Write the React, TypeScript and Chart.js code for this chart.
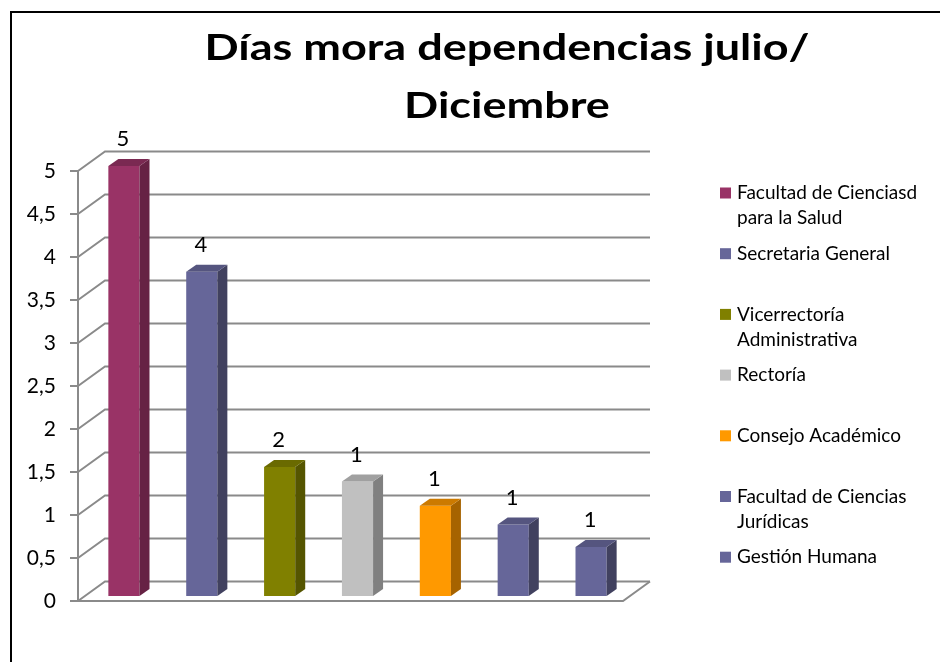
import React, { useEffect, useRef } from "react";
import { Chart, registerables } from "chart.js";

Chart.register(...registerables);

const categories = [
  "Facultad de Cienciasd para la Salud",
  "Secretaria General",
  "Vicerrectoría Administrativa",
  "Rectoría",
  "Consejo Académico",
  "Facultad de Ciencias Jurídicas",
  "Gestión Humana",
];
const values = [5, 3.77, 1.5, 1.33, 1.05, 0.83, 0.57];
const frontColors = ["#993366", "#666699", "#808000", "#C0C0C0", "#FF9900", "#666699", "#666699"];
const sideColors = ["#662244", "#41415F", "#555500", "#808080", "#A66300", "#41415F", "#41415F"];
const topColors = ["#7A2952", "#55557F", "#6A6A00", "#A0A0A0", "#CC7A00", "#55557F", "#55557F"];
const yTicks = [0, 0.5, 1, 1.5, 2, 2.5, 3, 3.5, 4, 4.5, 5];
const titleLines = ["Días mora dependencias julio/", "Diciembre"];

const FONT = "Lato, 'Open Sans', sans-serif";
const DX = 27;
const DY = -19.5;
const BDX = 10;
const BDY = -7;
const SHIFT_X = 7;
const SHIFT_Y = -5;

function wrap(ctx: CanvasRenderingContext2D, text: string, maxW: number): string[] {
  const words = text.split(" ");
  const lines: string[] = [];
  let cur = "";
  for (const w of words) {
    const t = cur ? cur + " " + w : w;
    if (ctx.measureText(t).width > maxW && cur) {
      lines.push(cur);
      cur = w;
    } else cur = t;
  }
  if (cur) lines.push(cur);
  return lines;
}

const threeD = {
  id: "threeD",
  beforeDatasetsDraw(chart: any) {
    const { ctx, chartArea, scales } = chart;
    const y = scales.y;
    const L = chartArea.left;
    const R = chartArea.right;
    ctx.save();
    ctx.strokeStyle = "#8a8a8a";
    ctx.lineWidth = 2;
    for (const v of yTicks) {
      const py = y.getPixelForValue(v);
      ctx.beginPath();
      ctx.moveTo(L, py);
      ctx.lineTo(L + DX, py + DY);
      ctx.lineTo(R + DX, py + DY);
      ctx.stroke();
      ctx.beginPath();
      ctx.moveTo(L - 8, py);
      ctx.lineTo(L, py);
      ctx.stroke();
    }
    const p0 = y.getPixelForValue(0);
    ctx.beginPath();
    ctx.moveTo(L, y.getPixelForValue(5));
    ctx.lineTo(L, p0);
    ctx.stroke();
    ctx.beginPath();
    ctx.moveTo(L, p0);
    ctx.lineTo(R, p0);
    ctx.lineTo(R + DX, p0 + DY);
    ctx.stroke();
    ctx.restore();
    ctx.save();
    ctx.translate(SHIFT_X, SHIFT_Y);
  },
  afterDatasetsDraw(chart: any) {
    const ctx = chart.ctx;
    const meta = chart.getDatasetMeta(0);
    meta.data.forEach((bar: any, i: number) => {
      const { x, y, base, width } = bar.getProps(["x", "y", "base", "width"], true);
      const l = x - width / 2;
      const r = x + width / 2;
      ctx.fillStyle = sideColors[i];
      ctx.beginPath();
      ctx.moveTo(r, y);
      ctx.lineTo(r + BDX, y + BDY);
      ctx.lineTo(r + BDX, base + BDY);
      ctx.lineTo(r, base);
      ctx.closePath();
      ctx.fill();
      ctx.fillStyle = topColors[i];
      ctx.beginPath();
      ctx.moveTo(l, y);
      ctx.lineTo(r, y);
      ctx.lineTo(r + BDX, y + BDY);
      ctx.lineTo(l + BDX, y + BDY);
      ctx.closePath();
      ctx.fill();
      ctx.fillStyle = "#000";
      ctx.font = `22px ${FONT}`;
      ctx.textAlign = "center";
      ctx.textBaseline = "middle";
      ctx.fillText(String(Math.round(values[i])), x - 1, y - 27);
    });
    ctx.restore();
  },
  afterDraw(chart: any) {
    const ctx = chart.ctx;
    ctx.save();
    ctx.fillStyle = "#000";
    ctx.textAlign = "center";
    ctx.textBaseline = "middle";
    ctx.font = `bold 36px ${FONT}`;
    const sx = 605 / ctx.measureText(titleLines[0]).width;
    ctx.save();
    ctx.translate(499, 0);
    ctx.scale(sx, 1);
    ctx.fillText(titleLines[0], 0, 40);
    ctx.fillText(titleLines[1], 0, 98);
    ctx.restore();
    ctx.font = `19px ${FONT}`;
    ctx.textAlign = "left";
    categories.forEach((c, i) => {
      const y0 = 185 + i * 60.7;
      ctx.fillStyle = frontColors[i];
      ctx.fillRect(712, y0 - 5.5, 11, 11);
      ctx.fillStyle = "#000";
      const lines = wrap(ctx, c, 192);
      lines.forEach((ln, k) => ctx.fillText(ln, 729, y0 + k * 25));
    });
    ctx.restore();
  },
};

export default function App() {
  const ref = useRef<HTMLCanvasElement>(null);
  useEffect(() => {
    if (!ref.current) return;
    const chart = new Chart(ref.current, {
      type: "bar",
      data: {
        labels: categories,
        datasets: [
          {
            data: values,
            backgroundColor: frontColors,
            barPercentage: 0.4,
            categoryPercentage: 1,
          },
        ],
      },
      options: {
        animation: false,
        responsive: false,
        layout: { padding: { left: 0, top: 163, right: 317, bottom: 61 } },
        plugins: { legend: { display: false }, title: { display: false }, tooltip: { enabled: false } },
        scales: {
          x: { display: false },
          y: {
            min: 0,
            max: 5,
            afterFit: (s: any) => {
              s.width = 70;
            },
            afterBuildTicks: (s: any) => {
              s.ticks = yTicks.map((v) => ({ value: v }));
            },
            grid: { display: false, drawTicks: false },
            border: { display: false },
            ticks: {
              padding: 22,
              color: "#000",
              font: { family: FONT, size: 21 },
              callback: (v: any) => String(v).replace(".", ","),
            },
          },
        },
      },
      plugins: [threeD],
    });
    return () => chart.destroy();
  }, []);
  return (
    <div style={{ position: "relative", width: 932, height: 654, overflow: "hidden", background: "#fff" }}>
      <div
        style={{
          position: "absolute",
          left: 2,
          top: 3,
          width: 1200,
          height: 1200,
          borderLeft: "2px solid #000",
          borderTop: "2px solid #000",
        }}
      />
      <canvas ref={ref} width={932} height={654} style={{ position: "absolute", left: 0, top: 0 }} />
    </div>
  );
}
